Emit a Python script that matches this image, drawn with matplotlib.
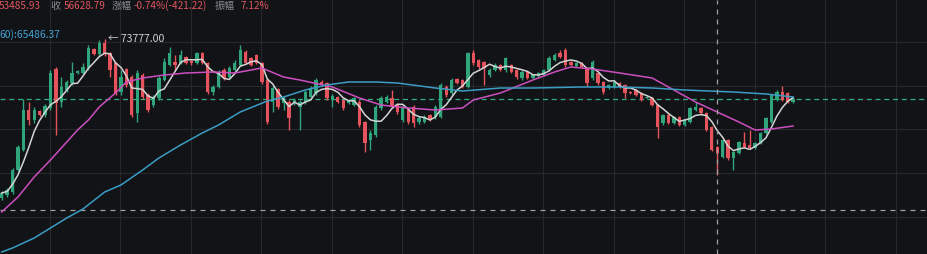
import matplotlib
matplotlib.use("Agg")
import matplotlib.pyplot as plt
import numpy as np
import pandas as pd

# daily candles (open, close, high, low)
opens = [42000, 42600, 43200, 47600, 51600, 59600, 57600, 59400, 58600, 60000,
         67800, 61200, 63600, 65000, 67000, 67000, 68000, 71800, 70800, 73000,
         71000, 69000, 63200, 67800, 66200, 59000, 66600, 62600, 60600, 62000,
         65600, 68600, 69200, 69000, 70200, 69400, 69000, 71000, 69000, 63200,
         64200, 67600, 66200, 67600, 68600, 71200, 70000, 70600, 69000, 65600,
         61200, 63800, 61000, 61200, 61000, 60200, 61200, 62200, 63000, 65200,
         65000, 61600, 62200, 61600, 61000, 60600, 61200, 57200, 53600, 54600,
         60000, 61200, 62000, 60600, 57600, 59600, 60200, 57200, 57200, 58600,
         58200, 58200, 64200, 63000, 65800, 65600, 64200, 71000, 69600, 69200,
         66600, 67600, 68600, 67600, 68600, 67600, 66000, 67200, 66000, 66400,
         66600, 67600, 69600, 71000, 71600, 69200, 68400, 69000, 68000, 66000,
         67000, 65200, 64000, 64200, 65000, 64600, 63200, 63600, 63000, 62000,
         62000, 60600, 57000, 58600, 57000, 58200, 56600, 57200, 59600, 60000,
         59000, 56200, 52200, 50200, 53600, 50000, 51000, 53000, 52600, 52000,
         53000, 55000, 57200, 61600, 63200, 63000, 61200]
closes = [43000, 43600, 47600, 52200, 59600, 57600, 59600, 58600, 60400, 67000,
          61000, 64200, 65200, 67000, 67400, 68200, 72000, 70800, 73000, 70800,
          67600, 63000, 66200, 64600, 58600, 67000, 62200, 59600, 62200, 66000,
          69200, 71000, 68600, 70600, 69000, 69000, 71000, 69000, 63200, 64200,
          67200, 66000, 68000, 69000, 71600, 69000, 68600, 69000, 65200, 57200,
          64000, 60200, 62000, 58000, 61600, 61200, 63200, 64000, 65600, 64600,
          62000, 62400, 61200, 60000, 61600, 62000, 56600, 53000, 55000, 60200,
          62000, 62200, 60200, 59200, 60000, 57200, 57000, 58000, 58200, 57600,
          60200, 64600, 62600, 65600, 65000, 64200, 71000, 69000, 68200, 68000,
          67600, 68600, 67600, 70000, 67200, 66200, 67200, 66000, 66600, 67000,
          67600, 70000, 70600, 70200, 68600, 68600, 69000, 68200, 65000, 69200,
          65000, 63200, 64600, 65200, 64200, 63000, 63000, 62600, 61600, 62200,
          60600, 56200, 58600, 57000, 58200, 56600, 57600, 60000, 60200, 59000,
          55600, 51600, 51000, 53600, 50000, 51200, 53200, 52200, 52000, 53000,
          55000, 58000, 62600, 63200, 61600, 61200, 61800]
highs = [43400, 44000, 48000, 52600, 61800, 61200, 60200, 59600, 60800, 67600,
         68200, 66200, 65600, 69200, 67600, 69000, 72600, 72000, 73600, 73777,
         71200, 69200, 67600, 68000, 66600, 67600, 67000, 63000, 62600, 66400,
         70000, 72200, 70600, 71600, 70400, 69600, 71200, 71200, 69200, 64600,
         67600, 68000, 68400, 69600, 72600, 71600, 70200, 70800, 69200, 66000,
         64400, 64000, 62400, 61600, 62000, 61600, 63600, 64400, 66000, 65600,
         65200, 62800, 62400, 61800, 61800, 62200, 61600, 57400, 55600, 60600,
         62400, 62600, 63600, 60800, 60400, 60000, 60600, 58400, 58600, 58800,
         60600, 65000, 64600, 66000, 66000, 65800, 71200, 71600, 69800, 69400,
         68000, 69000, 68800, 70200, 68800, 67800, 67600, 67400, 66800, 67200,
         67800, 70400, 71000, 71600, 72000, 69400, 69200, 69200, 68200, 69600,
         67200, 65400, 64800, 65400, 65200, 64800, 63400, 63800, 63200, 62400,
         62200, 60800, 58800, 58800, 58400, 58400, 57800, 60200, 61200, 60200,
         59200, 56400, 52400, 53800, 53800, 51400, 53400, 55200, 55600, 53200,
         55200, 58200, 62800, 63600, 64400, 63200, 62200]
lows = [41600, 42200, 42800, 47400, 51400, 56600, 57000, 58400, 58200, 59600,
        54600, 60200, 63200, 64600, 66800, 66800, 67600, 70600, 70600, 70400,
        66200, 62600, 62600, 64200, 58200, 57200, 61800, 59200, 60200, 61600,
        65400, 68400, 67600, 68800, 68800, 68600, 68800, 68800, 62800, 62600,
        64000, 65600, 66000, 67400, 68400, 68800, 68400, 68800, 64800, 56800,
        59200, 59800, 59600, 55600, 60600, 55600, 60800, 62000, 62600, 64400,
        61600, 60200, 61000, 59600, 60800, 60400, 56200, 51200, 51600, 54200,
        59600, 61000, 60000, 58800, 57200, 56800, 56200, 56800, 57000, 57400,
        57800, 58000, 62200, 62600, 64800, 64000, 64000, 68600, 67800, 64600,
        66200, 67400, 67400, 67200, 67000, 65800, 65600, 65800, 65800, 66200,
        66400, 67400, 69400, 70000, 68200, 68400, 68200, 68000, 64400, 65600,
        64600, 62800, 63800, 64000, 64000, 62000, 62800, 62400, 61400, 61800,
        60400, 54000, 56600, 56800, 56800, 56400, 56400, 57000, 59400, 58800,
        55400, 51400, 46600, 50000, 49600, 47600, 50800, 52000, 51800, 51800,
        52800, 54800, 57000, 61400, 61400, 61000, 61000]

# slower moving averages at sample candles
ma_pink_idx = [0, 3, 6, 9, 12, 14, 16, 18, 21, 23, 26, 30, 34, 39, 43, 48, 52, 55,
               61, 66, 70, 75, 80, 85, 87, 92, 98, 102, 105, 109, 114, 120, 123,
               128, 132, 136, 139, 142, 146]
ma_pink = [39200, 42200, 46200, 49600, 53200, 55600, 57600, 60200, 63000, 65200,
           66000, 66600, 67000, 67200, 67000, 68000, 66200, 65600, 64200, 62000,
           60600, 60000, 59600, 60000, 61600, 63000, 65600, 67200, 68200, 67800,
           67000, 66000, 64200, 61200, 59200, 57200, 55600, 55800, 56400]
ma_blue_idx = [0, 2, 6, 9, 12, 15, 19, 22, 26, 29, 33, 37, 40, 44, 49, 52, 56, 60,
               64, 69, 73, 80, 85, 92, 98, 107, 114, 120, 126, 135, 141, 146]
ma_blue = [31200, 32000, 34000, 36000, 38000, 39800, 43200, 44600, 47600, 50000,
           52600, 55000, 56600, 59200, 61400, 62200, 63600, 64600, 65200, 65200,
           65000, 64000, 63400, 64000, 64000, 64200, 64200, 64000, 63600, 63200,
           62800, 62200]

last_price = 61800
cross_idx = 132
cross_price = 39600
peak_idx = 19
grid_prices = [73200, 64400, 55800, 47000, 38200]

bg = "#121316"
up_col = "#30a57b"
down_col = "#e5535c"

plt.rcParams['font.family'] = ['Noto Sans CJK SC', 'DejaVu Sans']

fig = plt.figure(figsize=(9.27, 2.54), dpi=100)
fig.patch.set_facecolor(bg)
ax = fig.add_axes([0, 0, 1, 1])
ax.set_facecolor(bg)

o = np.array(opens); c = np.array(closes)
h = np.array(highs); l = np.array(lows)
x = np.arange(len(o))
cols = np.where(c >= o, up_col, down_col)

ax.vlines(x, l, h, colors=cols, lw=1, zorder=3)
bottom = np.minimum(o, c)
height = np.maximum(np.abs(c - o), 150)
ax.bar(x, height, bottom=bottom, width=0.62, color=cols, zorder=4)

ma5 = pd.Series(c).rolling(5, min_periods=1).mean()
ax.plot(x, ma5, color="#d4d4d4", lw=1.1, zorder=5)
ax.plot(ma_pink_idx, ma_pink, color="#cc4fbf", lw=1.1, zorder=5)
ax.plot(ma_blue_idx, ma_blue, color="#3b9cc4", lw=1.1, zorder=5)

ax.axhline(last_price, color="#2fae7f", lw=0.9, ls=(0, (4, 3)), zorder=2)
ax.axhline(cross_price, color="#a0a0a0", lw=0.9, ls=(0, (4, 4)), zorder=2)
ax.axvline(cross_idx, color="#a0a0a0", lw=0.9, ls=(0, (4, 4)), zorder=6)

ax.text(peak_idx + 0.6, h[peak_idx], "← %.2f" % h[peak_idx], color="#d0d0d0",
        fontsize=7.6, va="center", ha="left", zorder=7)

ax.set_xlim(-0.31, 170.7)
ax.set_ylim(30800, 81600)
ax.set_xticks(np.arange(8.9, 170, 13))
ax.set_yticks(grid_prices)
ax.grid(True, color="#26282c", lw=0.8)
ax.tick_params(length=0, labelbottom=False, labelleft=False)
for s in ax.spines.values():
    s.set_visible(False)

# header texts
hy = 1 - 6 / 254
red_t = "#e0575f"
grey_t = "#8a8d93"
parts = [(-1, "53485.93", red_t), (50, "收", grey_t), (64, "56628.79", red_t),
         (112, "涨幅", grey_t), (134, "-0.74%(-421.22)", red_t),
         (215, "振幅", grey_t), (241, "7.12%", red_t)]
for px, txt, col in parts:
    fig.text(px / 927, hy, txt, color=col, fontsize=7.2, va="center", ha="left")
fig.text(-1 / 927, 1 - 35 / 254, "60):65486.37", color="#44a3d6", fontsize=7.4,
         va="center", ha="left")

fig.savefig("out.png", dpi=100, facecolor=bg)
